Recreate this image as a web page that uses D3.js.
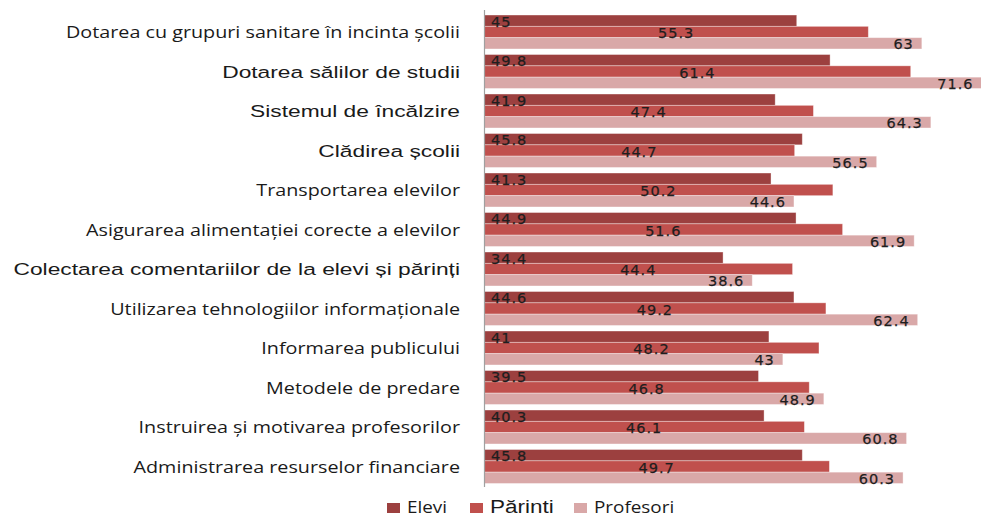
<div id="chart_cont"></div>

<style>
  body{
    margin: 0px;
    padding: 0px;
    background: #ffffff;
  }
</style>

<script src="https://d3js.org/d3.v7.min.js"></script>
<script>

// categories, top to bottom
var categories = [
  'Dotarea cu grupuri sanitare în incinta școlii',
  'Dotarea sălilor de studii',
  'Sistemul de încălzire',
  'Clădirea școlii',
  'Transportarea elevilor',
  'Asigurarea alimentației corecte a elevilor',
  'Colectarea comentariilor de la elevi și părinți',
  'Utilizarea tehnologiilor informaționale',
  'Informarea publicului',
  'Metodele de predare',
  'Instruirea și motivarea profesorilor',
  'Administrarea resurselor financiare'
];

var series_names = ['Elevi', 'Părinti', 'Profesori'];

var elevi     = [45, 49.8, 41.9, 45.8, 41.3, 44.9, 34.4, 44.6, 41, 39.5, 40.3, 45.8];
var parinti   = [55.3, 61.4, 47.4, 44.7, 50.2, 51.6, 44.4, 49.2, 48.2, 46.8, 46.1, 49.7];
var profesori = [63, 71.6, 64.3, 56.5, 44.6, 61.9, 38.6, 62.4, 43, 48.9, 60.8, 60.3];

// labels that were typed in a different (arial-ish) font in the original
var arial_rows = [1, 2, 3, 6];

var w = 981, h = 518;
var colors = ['#9c403f', '#c0504d', '#d9a8a8'];
var label_font = "'Open Sans', sans-serif";
var arial_font = "'Liberation Sans', Arial, sans-serif";
// the original picture is stretched sideways, so text gets stretched too
var stretch_calibri = 1.235;
var stretch_arial = 1.34;

var svg = d3.select('#chart_cont')
  .append('svg')
  .attr('width', w)
  .attr('height', h)
  .style('display', 'block');

var x = d3.scaleLinear()
  .domain([0, 71.6])
  .range([484, 981.6]);

var y = d3.scaleBand()
  .domain(d3.range(categories.length))
  .range([12.25, 486.25])
  .paddingInner(0.14)
  .paddingOuter(0.07);

var y_inner = d3.scaleBand()
  .domain(d3.range(series_names.length))
  .range([0, y.bandwidth()]);

var all_series = [elevi, parinti, profesori];

var rows = categories.map(function(c, i){
  return { cat : c, i : i, vals : all_series.map(function(s){ return s[i]; }) };
});

// bars
var groups = svg.selectAll('g.row')
  .data(rows)
  .enter().append('g')
    .attr('class', 'row')
    .attr('transform', d => 'translate(0,' + y(d.i) + ')');

groups.selectAll('rect')
  .data(d => d.vals)
  .enter().append('rect')
    .attr('x', x(0))
    .attr('y', (d, j) => y_inner(j))
    .attr('width', d => x(d) - x(0))
    .attr('height', y_inner.bandwidth())
    .attr('fill', (d, j) => colors[j])
    .attr('stroke', 'rgba(255,255,255,0.45)')
    .attr('stroke-width', 0.8);

// value labels : first at the base, second centred, third at the end
groups.selectAll('text.val')
  .data(d => d.vals)
  .enter().append('text')
    .attr('class', 'val')
    .attr('x', function(d, j){
      if (j == 0) return x(0) + 7;
      if (j == 1) return (x(0) + x(d)) / 2;
      return x(d) - 8;
    })
    .attr('y', (d, j) => y_inner(j) + y_inner.bandwidth() + 0.5)
    .attr('text-anchor', (d, j) => ['start', 'middle', 'end'][j])
    .style('font-family', "'DejaVu Sans', Verdana, sans-serif")
    .style('font-size', '14.5px')
    .style('letter-spacing', '1px')
    .style('fill', '#1e1e1e')
    .style('stroke', '#1e1e1e')
    .style('stroke-width', 0.25)
    .text(d => d);

// category labels
svg.selectAll('text.cat')
  .data(rows)
  .enter().append('text')
    .attr('class', 'cat')
    .attr('transform', function(d){
      var s = arial_rows.indexOf(d.i) >= 0 ? stretch_arial : stretch_calibri;
      return 'translate(460,' + (y(d.i) + y.bandwidth() / 2 + 6) + ') scale(' + s + ',1)';
    })
    .attr('text-anchor', 'end')
    .style('font-family', d => arial_rows.indexOf(d.i) >= 0 ? arial_font : label_font)
    .style('font-size', d => arial_rows.indexOf(d.i) >= 0 ? '17px' : '16px')
    .style('fill', '#1a1a1a')
    .text(d => d.cat);

// axis line
svg.append('line')
  .attr('x1', x(0) + 0.5)
  .attr('x2', x(0) + 0.5)
  .attr('y1', 10)
  .attr('y2', 487)
  .attr('stroke', '#a0a0a0')
  .attr('stroke-width', 1.2);

// legend
var legend_x = [387, 470, 574];
var legend = svg.selectAll('g.leg')
  .data(series_names)
  .enter().append('g')
    .attr('class', 'leg')
    .attr('transform', (d, i) => 'translate(' + legend_x[i] + ',0)');

legend.append('rect')
  .attr('x', 0)
  .attr('y', 503)
  .attr('width', 13)
  .attr('height', 10)
  .attr('fill', (d, i) => colors[i]);

legend.append('text')
  .attr('transform', function(d, i){
    var s = i == 1 ? 1.25 : 1.18;
    return 'translate(20,513) scale(' + s + ',1)';
  })
  .style('font-family', (d, i) => i == 1 ? arial_font : label_font)
  .style('font-size', (d, i) => i == 1 ? '18px' : '16px')
  .style('fill', '#1a1a1a')
  .text(d => d);

</script>
